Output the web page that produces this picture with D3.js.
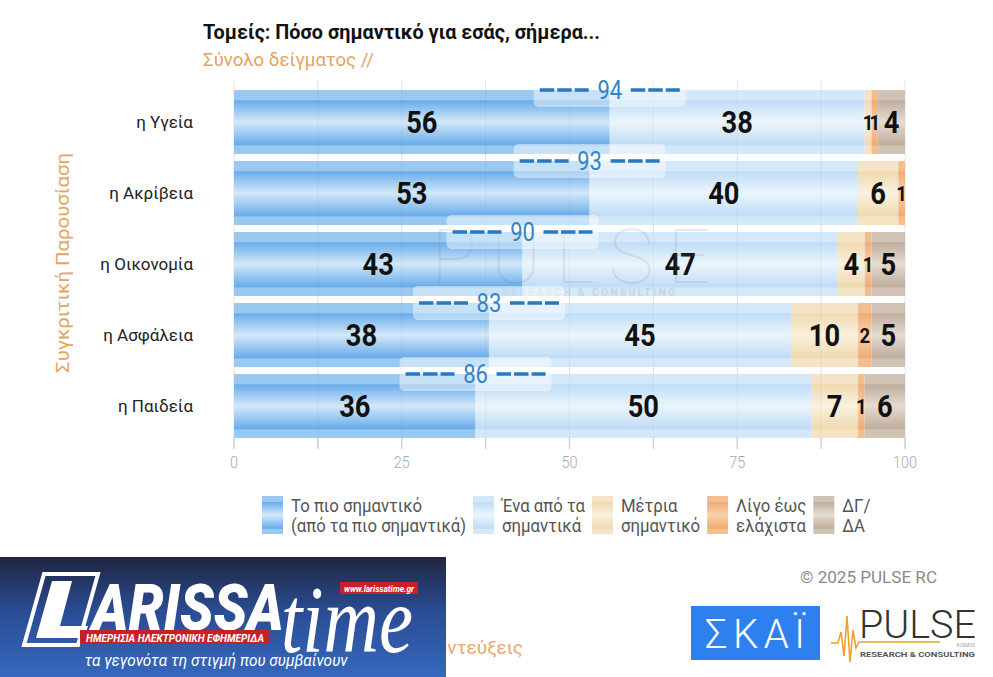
<!DOCTYPE html>
<html><head><meta charset="utf-8">
<script src="https://cdn.jsdelivr.net/npm/d3@7"></script>
<style>
body{margin:0;background:#fff;}
svg{display:block;font-family:Roboto,"Noto Sans",sans-serif;}
</style>
</head><body>
<svg id="c" width="993" height="677"></svg>
<script>
// ---------- DATA ----------
const categories = ["η Υγεία","η Ακρίβεια","η Οικονομία","η Ασφάλεια","η Παιδεία"];
const seriesKeys = ["most","one","moderate","little","dk"];
const seriesLabels = [
  ["Το πιο σημαντικό","(από τα πιο σημαντικά)"],
  ["Ένα από τα","σημαντικά"],
  ["Μέτρια","σημαντικό"],
  ["Λίγο έως","ελάχιστα"],
  ["ΔΓ/","ΔΑ"]
];
const mostImportant = [56,53,43,38,36];
const oneOfImportant = [38,40,47,45,50];
const moderate = [1,6,4,10,7];
const littleToNone = [1,1,1,2,1];
const dontKnow = [4,0,5,5,6];
const combinedTotal = [94,93,90,83,86];
const xTickLabels = [0,25,50,75,100];
const gridValues = [0,12.5,25,37.5,50,62.5,75,87.5,100];

// ---------- STYLE ----------
const segColors = [
  {edge:"#6aadea", light:"#d3e8f9"},
  {edge:"#c0ddf6", light:"#ebf5fd"},
  {edge:"#efdab0", light:"#faf1de"},
  {edge:"#f0ab74", light:"#f8d2ad"},
  {edge:"#bfae9e", light:"#e5dbd1"}
];

const svg = d3.select("#c");

const rows = categories.map((c,i)=>({cat:c, most:mostImportant[i], one:oneOfImportant[i],
  moderate:moderate[i], little:littleToNone[i], dk:dontKnow[i], total:combinedTotal[i]}));

const x = d3.scaleLinear().domain([0,100]).range([234,905]);
const y = d3.scaleBand().domain(categories).range([90,438]).paddingInner(7/71).paddingOuter(0);

function condense(sel,f){
  sel.each(function(){
    const w=this.getComputedTextLength();
    if(w>0){this.setAttribute("textLength",w*f);this.setAttribute("lengthAdjust","spacingAndGlyphs");}
  });
}

// gradients
const defs = svg.append("defs");
segColors.forEach((c,i)=>{
  const mid = d3.interpolateRgb(c.edge,c.light)(0.45);
  const g = defs.append("linearGradient").attr("id","g"+i).attr("x1",0).attr("y1",0).attr("x2",0).attr("y2",1);
  [[0,mid],[0.15,mid],[0.17,c.edge],[0.5,c.light],[0.85,c.edge],[0.88,mid],[1,mid]]
    .forEach(s=>g.append("stop").attr("offset",s[0]).attr("stop-color",s[1]));
});
const bg = defs.append("linearGradient").attr("id","banner").attr("x1",0).attr("y1",0).attr("x2",0).attr("y2",1);
[[0,"#1f2640"],[0.45,"#2a4c93"],[1,"#3668be"]].forEach(s=>bg.append("stop").attr("offset",s[0]).attr("stop-color",s[1]));

// ---------- TITLES ----------
svg.append("text").attr("x",203).attr("y",39).attr("font-size",20).attr("font-weight",700)
  .attr("fill","#111").attr("textLength",397).attr("lengthAdjust","spacingAndGlyphs")
  .text("Τομείς: Πόσο σημαντικό για εσάς, σήμερα...");
svg.append("text").attr("x",203).attr("y",66).attr("font-size",18).attr("fill","#e4a462")
  .attr("textLength",171).attr("lengthAdjust","spacingAndGlyphs").text("Σύνολο δείγματος //");
svg.append("text").attr("transform","translate(69,263) rotate(-90)").attr("text-anchor","middle")
  .attr("font-size",18.5).attr("fill","#e4a462").attr("textLength",220).attr("lengthAdjust","spacingAndGlyphs")
  .text("Συγκριτική Παρουσίαση");

// ---------- GRID ----------
svg.append("g").selectAll("line").data(gridValues).join("line")
  .attr("x1",d=>x(d)).attr("x2",d=>x(d)).attr("y1",80).attr("y2",448)
  .attr("stroke","#e4e4e4").attr("stroke-width",1);

// ---------- BARS ----------
const stack = d3.stack().keys(seriesKeys)(rows);
const barG = svg.append("g");
stack.forEach((layer,si)=>{
  barG.append("g").selectAll("rect").data(layer).join("rect")
    .attr("x",d=>x(d[0])).attr("width",d=>x(d[1])-x(d[0]))
    .attr("y",d=>y(d.data.cat)).attr("height",y.bandwidth())
    .attr("fill","url(#g"+si+")");
});
// faint grid through bars
svg.append("g").selectAll("line").data(gridValues.slice(1,-1)).join("line")
  .attr("x1",d=>x(d)).attr("x2",d=>x(d)).attr("y1",90).attr("y2",438)
  .attr("stroke","#000").attr("stroke-opacity",0.035);

// watermark
const wm = svg.append("g").attr("opacity",0.15).attr("fill","#777");
wm.append("text").attr("x",578).attr("y",283).attr("text-anchor","middle").attr("font-size",76)
  .attr("font-weight",100).attr("letter-spacing",14).text("PULSE");
wm.append("text").attr("x",590).attr("y",296).attr("text-anchor","middle").attr("font-size",10)
  .attr("font-weight",700).attr("letter-spacing",2.5).text("RESEARCH & CONSULTING");

// segment value labels
stack.forEach((layer,si)=>{
  const t = barG.append("g").selectAll("text").data(layer.filter(d=>d[1]-d[0]>0)).join("text")
    .attr("x",d=>(x(d[0])+x(d[1]))/2)
    .attr("y",d=>y(d.data.cat)+y.bandwidth()/2+ ((d[1]-d[0])<=2?8:11))
    .attr("text-anchor","middle").attr("font-weight",700).attr("fill","#111")
    .attr("font-size",d=>(d[1]-d[0])<=2?21:31)
    .text(d=>d[1]-d[0]);
  condense(t,0.88);
});

// combined labels
const cg = svg.append("g");
rows.forEach(r=>{
  const cx = x(r.most), cy = y(r.cat);
  cg.append("rect").attr("x",cx-76).attr("y",cy-17).attr("width",152).attr("height",34).attr("rx",5)
    .attr("fill","#fff").attr("fill-opacity",0.45);
  cg.append("line").attr("x1",cx-70).attr("x2",cx-21).attr("y1",cy).attr("y2",cy)
    .attr("stroke","#2a78bd").attr("stroke-width",3.5).attr("stroke-dasharray","14.5,3");
  cg.append("line").attr("x1",cx+21).attr("x2",cx+70).attr("y1",cy).attr("y2",cy)
    .attr("stroke","#2a78bd").attr("stroke-width",3.5).attr("stroke-dasharray","14.5,3");
  const t = cg.append("text").attr("x",cx).attr("y",cy+9).attr("text-anchor","middle")
    .attr("font-size",25).attr("fill","#3384c6").text(r.total);
  condense(t,0.88);
});

// category labels
svg.append("g").selectAll("text").data(categories).join("text")
  .attr("x",193).attr("y",d=>y(d)+y.bandwidth()/2+6).attr("text-anchor","end")
  .attr("font-size",17).attr("fill","#222").text(d=>d);

// x axis ticks
svg.append("g").selectAll("line").data(gridValues).join("line")
  .attr("x1",d=>x(d)).attr("x2",d=>x(d)).attr("y1",438).attr("y2",449)
  .attr("stroke","#d0d0d0").attr("stroke-width",1.3);
const tl = svg.append("g").selectAll("text").data(xTickLabels).join("text")
  .attr("x",d=>x(d)).attr("y",468).attr("text-anchor","middle").attr("font-size",17)
  .attr("font-weight",300).attr("fill","#aaa").text(d=>d);
condense(tl,0.85);

// ---------- LEGEND ----------
let lx = 262;
seriesLabels.forEach((lines,i)=>{
  const g = svg.append("g");
  g.append("rect").attr("x",lx).attr("y",496).attr("width",21).attr("height",38).attr("fill","url(#g"+i+")");
  let maxW = 0;
  lines.forEach((ln,j)=>{
    const t = g.append("text").attr("x",lx+29).attr("y",512+j*20).attr("font-size",18).attr("fill","#555").text(ln);
    const w = t.node().getComputedTextLength()*0.93;
    t.attr("textLength",w).attr("lengthAdjust","spacingAndGlyphs");
    maxW = Math.max(maxW,w);
  });
  lx = lx + 29 + maxW + 7;
});

// ---------- FOOTER ----------
svg.append("text").attr("x",523).attr("y",654).attr("text-anchor","end").attr("font-size",19)
  .attr("fill","#eaa86a").text("Τηλεφωνικές συνεντεύξεις");
svg.append("text").attr("x",937).attr("y",583).attr("text-anchor","end").attr("font-size",17)
  .attr("fill","#8a8a8a").attr("textLength",137).attr("lengthAdjust","spacingAndGlyphs").text("©  2025  PULSE RC");

// Larissa time banner
const b = svg.append("g");
b.append("rect").attr("x",0).attr("y",557).attr("width",446).attr("height",120).attr("fill","url(#banner)");
b.append("path").attr("d","M44,574 L98,574 L78,645 L24,645 Z").attr("fill","none").attr("stroke","#fff").attr("stroke-width",4);
b.append("path").attr("d","M52,581 L72,581 L60,626 L88,626 L84,638 L36,638 Z").attr("fill","#fff");
b.append("text").attr("x",92).attr("y",630).attr("font-size",64).attr("font-weight",900).attr("font-style","italic")
  .attr("fill","#fff").attr("textLength",192).attr("lengthAdjust","spacingAndGlyphs").text("ARISSA");
b.append("text").attr("x",281).attr("y",652).attr("font-family","'Liberation Serif','DejaVu Serif',serif")
  .attr("font-size",96).attr("font-style","italic").attr("fill","#fff")
  .attr("textLength",132).attr("lengthAdjust","spacingAndGlyphs").text("time");
b.append("rect").attr("x",340).attr("y",582).attr("width",78).attr("height",12).attr("fill","#c8202a");
b.append("text").attr("x",379).attr("y",591.5).attr("text-anchor","middle").attr("font-size",9).attr("font-weight",700)
  .attr("font-style","italic").attr("fill","#fff").attr("textLength",70).attr("lengthAdjust","spacingAndGlyphs").text("www.larissatime.gr");
b.append("rect").attr("x",80).attr("y",630).attr("width",190).attr("height",14).attr("fill","#c8202a");
b.append("text").attr("x",175).attr("y",641.5).attr("text-anchor","middle").attr("font-size",11).attr("font-weight",700)
  .attr("font-style","italic").attr("fill","#fff").attr("textLength",178).attr("lengthAdjust","spacingAndGlyphs").text("ΗΜΕΡΗΣΙΑ ΗΛΕΚΤΡΟΝΙΚΗ ΕΦΗΜΕΡΙΔΑ");
b.append("text").attr("x",216).attr("y",666).attr("text-anchor","middle").attr("font-size",16)
  .attr("font-style","italic").attr("fill","#fff").attr("textLength",263).attr("lengthAdjust","spacingAndGlyphs")
  .text("τα γεγονότα τη στιγμή που συμβαίνουν");

// SKAI logo
svg.append("rect").attr("x",691).attr("y",606).attr("width",129).attr("height",54).attr("fill","#2d80ee");
svg.append("text").attr("x",755).attr("y",648).attr("text-anchor","middle").attr("font-size",40).attr("font-weight",300)
  .attr("fill","#fff").attr("textLength",100).attr("lengthAdjust","spacing").text("ΣΚΑΪ");

// PULSE logo
svg.append("text").attr("x",859).attr("y",638).attr("font-size",38).attr("font-weight",300).attr("fill","#333")
  .attr("textLength",117).attr("lengthAdjust","spacingAndGlyphs").text("PULSE");
svg.append("path").attr("d","M831,643 L838,643 L841,632 L844,656 L847,616 L850,662 L853,630 L856,648 L859,642 L940,642")
  .attr("fill","none").attr("stroke","#f0a030").attr("stroke-width",1.6);
svg.append("text").attr("x",975).attr("y",647).attr("text-anchor","end").attr("font-size",4.5).attr("fill","#999").text("KOSMOS");
svg.append("text").attr("x",860).attr("y",657).attr("font-size",7.5).attr("font-weight",700).attr("fill","#555")
  .attr("textLength",115).attr("lengthAdjust","spacingAndGlyphs").text("RESEARCH & CONSULTING");
</script>
</body></html>
